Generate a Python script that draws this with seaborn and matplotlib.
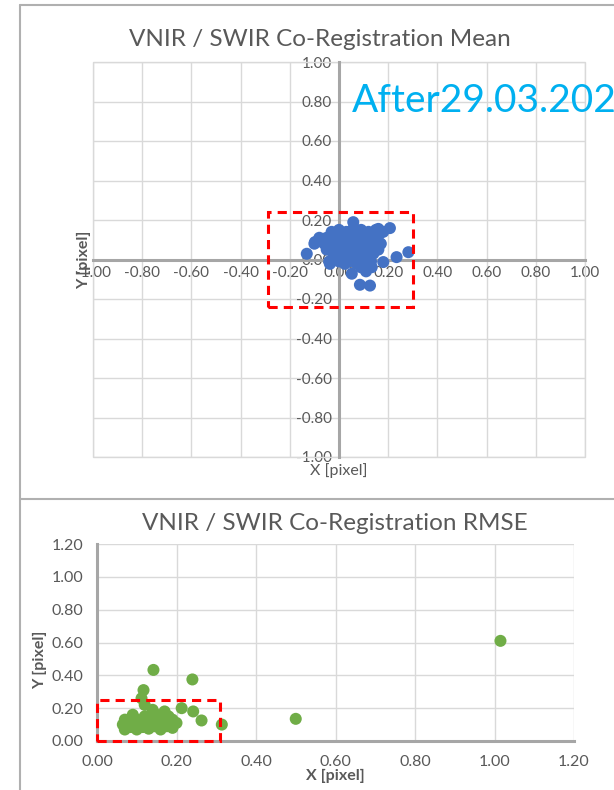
import matplotlib
matplotlib.use("Agg")
import matplotlib.pyplot as plt
import seaborn as sns
import pandas as pd
from matplotlib.patches import Rectangle
from matplotlib.lines import Line2D

# ---------------- data ----------------
mean_x = [-0.03, 0.00, 0.03, 0.06, 0.09, 0.12, 0.15, 0.18,
          -0.08, -0.05, -0.02, 0.01, 0.04, 0.07, 0.10, 0.13, 0.16,
          -0.10, -0.06, -0.03, 0.00, 0.03, 0.06, 0.09, 0.12, 0.15, 0.17,
          -0.05, -0.02, 0.01, 0.04, 0.07, 0.10, 0.13, 0.16,
          -0.02, 0.02, 0.05, 0.08, 0.11, 0.14,
          -0.04, 0.00, 0.04, 0.07, 0.10, 0.13,
          -0.131, -0.098, -0.037, 0.058, 0.207, 0.16, 0.234, 0.282, 0.18,
          0.052, 0.085, 0.126, 0.133, 0.024, 0.11, 0.09]
mean_y = [0.14, 0.15, 0.14, 0.16, 0.15, 0.14, 0.15, 0.14,
          0.11, 0.11, 0.12, 0.11, 0.12, 0.11, 0.12, 0.11, 0.12,
          0.08, 0.08, 0.09, 0.08, 0.08, 0.09, 0.08, 0.08, 0.09, 0.08,
          0.05, 0.05, 0.05, 0.06, 0.05, 0.05, 0.06, 0.05,
          0.02, 0.02, 0.03, 0.02, 0.02, 0.03,
          -0.01, -0.01, -0.01, -0.02, -0.01, -0.01,
          0.029, 0.088, -0.022, 0.189, 0.159, 0.155, 0.012, 0.037, -0.013,
          -0.072, -0.128, -0.132, -0.039, -0.022, -0.06, -0.04]

rmse_x = [0.07, 0.10, 0.13, 0.16, 0.19,
          0.065, 0.09, 0.12, 0.15, 0.18, 0.20,
          0.07, 0.10, 0.13, 0.16, 0.19,
          0.09, 0.12, 0.15, 0.18,
          0.14, 0.17, 0.085, 0.115, 0.145, 0.175,
          0.213, 0.242, 0.263, 0.314, 0.50, 1.015, 0.142, 0.24,
          0.117, 0.112, 0.12]
rmse_y = [0.07, 0.07, 0.075, 0.07, 0.08,
          0.10, 0.10, 0.10, 0.10, 0.10, 0.11,
          0.13, 0.13, 0.13, 0.13, 0.13,
          0.16, 0.15, 0.16, 0.15,
          0.19, 0.18, 0.085, 0.085, 0.09, 0.09,
          0.20, 0.18, 0.125, 0.10, 0.135, 0.61, 0.433, 0.375,
          0.31, 0.26, 0.22]

mean_ticks = [-1.0, -0.8, -0.6, -0.4, -0.2, 0.0, 0.2, 0.4, 0.6, 0.8, 1.0]
rmse_ticks = [0.0, 0.2, 0.4, 0.6, 0.8, 1.0, 1.2]

title_mean = "VNIR / SWIR Co-Registration Mean"
title_rmse = "VNIR / SWIR Co-Registration RMSE"
annot_text = "After29.03.202"

# ---------------- style ----------------
sns.set_style("white")
plt.rcParams["font.family"] = ["Lato", "DejaVu Sans"]
plt.rcParams["axes.unicode_minus"] = False

TXT = "#595959"
GRID = "#D9D9D9"
AX = "#A6A6A6"
BLUE = "#4472C4"
GREEN = "#70AD47"

W, H = 614, 790
fig = plt.figure(figsize=(W / 100, H / 100), dpi=100)

def fx(px):
    return px / W

def fy(py):
    return 1 - py / H

# outer frame lines
fig.add_artist(Line2D([fx(20), fx(20)], [fy(5), 0], color="#B0B0B0", lw=1.5))
fig.add_artist(Line2D([fx(20), 1], [fy(5), fy(5)], color="#B0B0B0", lw=1.5))
fig.add_artist(Line2D([fx(20), 1], [fy(499), fy(499)], color="#B0B0B0", lw=1.5))

# ---------------- top chart ----------------
ax1 = fig.add_axes([fx(93), fy(457), fx(585) - fx(93), fy(62) - fy(457)])
df1 = pd.DataFrame({"x": mean_x, "y": mean_y})
sns.scatterplot(data=df1, x="x", y="y", ax=ax1, color=BLUE, s=75, edgecolor="none",
                zorder=4, legend=False)
ax1.set_xlim(-1, 1)
ax1.set_ylim(-1, 1)
ax1.set_xticks(mean_ticks)
ax1.set_yticks(mean_ticks)
ax1.set_xticklabels([f"{t:.2f}" for t in mean_ticks])
ax1.set_yticklabels([f"{t:.2f}" for t in mean_ticks])
ax1.grid(True, color=GRID, lw=1)
ax1.set_axisbelow(True)
for side in ["top", "right"]:
    ax1.spines[side].set_visible(False)
ax1.spines["left"].set_position(("data", 0))
ax1.spines["bottom"].set_position(("data", 0))
for side in ["left", "bottom"]:
    ax1.spines[side].set_color(AX)
    ax1.spines[side].set_linewidth(2.2)
    ax1.spines[side].set_zorder(3)
ax1.add_patch(Rectangle((0, 0), 1, 1, transform=ax1.transAxes, fill=False,
                        edgecolor=GRID, lw=1, clip_on=False, zorder=1))
ax1.tick_params(axis="both", direction="out", length=4, width=2, color=AX,
                labelsize=11, labelcolor=TXT, pad=1)
ax1.set_xlabel("")
ax1.set_ylabel("")
ax1.add_patch(Rectangle((-0.29, -0.24), 0.59, 0.48, fill=False, edgecolor="#FF0000",
                        lw=2.2, linestyle=(0, (3, 2)), zorder=6, clip_on=False))

fig.text(fx(320), fy(40), title_mean, ha="center", va="center", fontsize=17.5, color=TXT)
fig.text(fx(339), fy(471), "X [pixel]", ha="center", va="center", fontsize=11.5, color=TXT)
fig.text(fx(84), fy(260), "Y [pixel]", ha="center", va="center", fontsize=11.5, color=TXT,
         rotation=90, fontweight="bold")
fig.text(fx(352), fy(101), annot_text, ha="left", va="center", fontsize=28, color="#00B0F0")

# ---------------- bottom chart ----------------
ax2 = fig.add_axes([fx(97), fy(741), fx(574) - fx(97), fy(544) - fy(741)])
df2 = pd.DataFrame({"x": rmse_x, "y": rmse_y})
sns.scatterplot(data=df2, x="x", y="y", ax=ax2, color=GREEN, s=75, edgecolor="none",
                zorder=4, legend=False, clip_on=False)
ax2.set_xlim(0, 1.2)
ax2.set_ylim(0, 1.2)
ax2.set_xticks(rmse_ticks)
ax2.set_yticks(rmse_ticks)
ax2.set_xticklabels([f"{t:.2f}" for t in rmse_ticks])
ax2.set_yticklabels([f"{t:.2f}" for t in rmse_ticks])
ax2.grid(True, color=GRID, lw=1)
ax2.set_axisbelow(True)
for side in ["top", "right"]:
    ax2.spines[side].set_visible(False)
for side in ["left", "bottom"]:
    ax2.spines[side].set_color(AX)
    ax2.spines[side].set_linewidth(2.2)
ax2.tick_params(axis="both", direction="out", length=4, width=2, color=AX,
                labelsize=11.5, labelcolor=TXT, pad=6)
ax2.set_xlabel("")
ax2.set_ylabel("")
ax2.add_patch(Rectangle((0.0, 0.0), 0.31, 0.25, fill=False, edgecolor="#FF0000",
                        lw=2.2, linestyle=(0, (3, 2)), zorder=6, clip_on=False))

fig.text(fx(335), fy(523), title_rmse, ha="center", va="center", fontsize=17.5, color=TXT)
fig.text(fx(335), fy(776), "X [pixel]", ha="center", va="center", fontsize=11.5, color=TXT,
         fontweight="bold")
fig.text(fx(40), fy(660), "Y [pixel]", ha="center", va="center", fontsize=11.5, color=TXT,
         rotation=90, fontweight="bold")

fig.savefig("out.png", dpi=100)
